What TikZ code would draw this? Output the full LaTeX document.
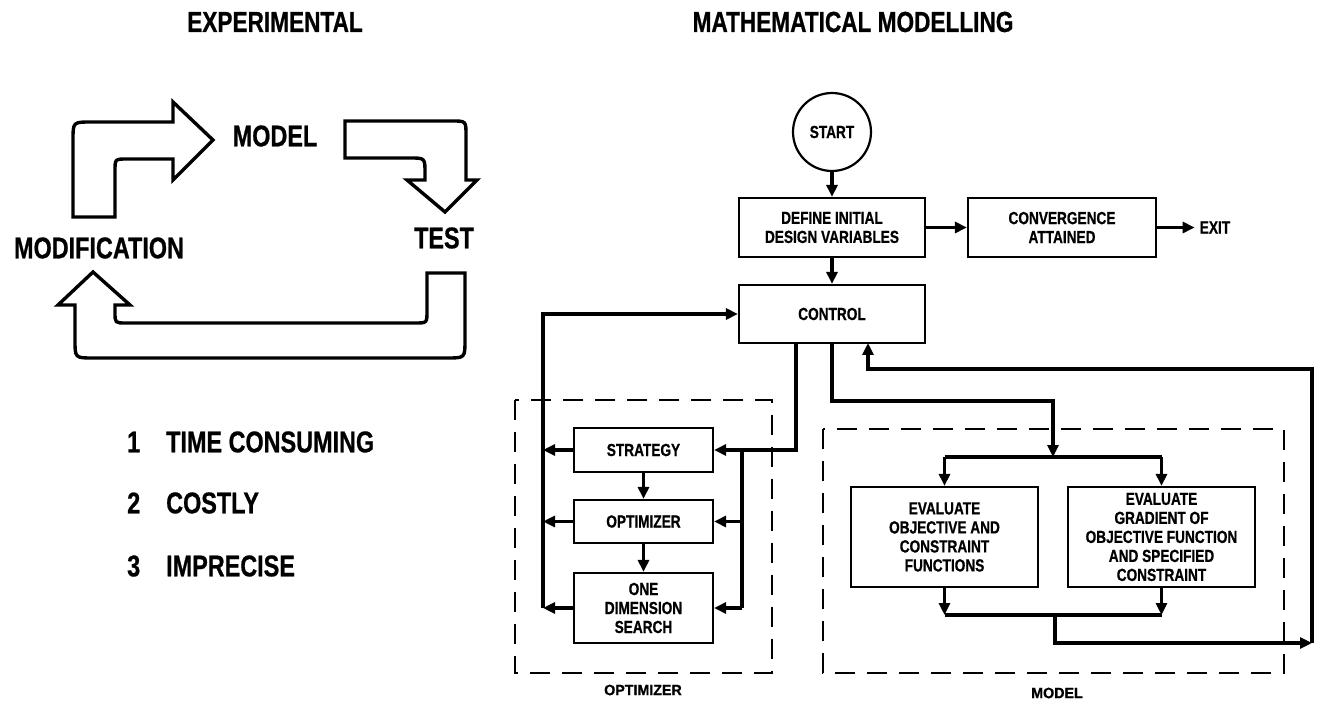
\documentclass[tikz,border=0pt]{standalone}
\usepackage{fontspec}
\setmainfont{Liberation Sans}[FakeStretch=0.78, BoldFeatures={FakeBold=0.7}]
\newfontfamily\groupfamily{Liberation Sans}[FakeStretch=0.95, BoldFeatures={FakeBold=0.7}]
\usetikzlibrary{arrows.meta,positioning}

\newcommand\headfont{\fontsize{29}{32}\selectfont\bfseries}
\newcommand\cyclefont{\fontsize{30}{34}\selectfont\bfseries}
\newcommand\blockfont{\fontsize{17.5}{19}\selectfont\bfseries}
\newcommand\groupfont{\groupfamily\fontsize{15}{17}\selectfont\bfseries}

\tikzstyle{heading}=[inner sep=0pt, font=\headfont]
\tikzstyle{stage}=[inner sep=0pt, font=\cyclefont]
\tikzstyle{block}=[rectangle, draw, line width=2.2pt, inner sep=0pt, align=center,
                   font=\blockfont]
\tikzstyle{terminal}=[circle, draw, line width=2.2pt, minimum size=78pt, inner sep=0pt,
                      font=\blockfont]
\tikzstyle{group-box}=[draw, line width=1.8pt, dash pattern=on 20pt off 12pt]
\tikzstyle{group-label}=[inner sep=0pt, font=\groupfont]
\tikzstyle{fat-arrow}=[draw, line width=3.4pt]
\tikzstyle{edge} = [draw, line width=3.5pt, -]
\tikzstyle{directed-edge} = [draw, line width=3.5pt, -{Triangle[length=12pt,width=11pt]}]

\begin{document}
\begin{tikzpicture}[x=1pt, y=-1pt]
    \useasboundingbox (0,0) rectangle (1318,703);
    % Headings
    \node[heading] (exp-title) at (275,22) {EXPERIMENTAL};
    \node[heading] (math-title) at (853,22) {MATHEMATICAL MODELLING};

    % The experimental cycle
    \foreach \pos/\name/\text in {{(275,136)/model-stage/MODEL}, {(444,238)/test-stage/TEST},
        {(99,248)/mod-stage/MODIFICATION}}
      \node[stage] (\name) at \pos {\text};
    \draw[fat-arrow] (73,217) -- (73,140) .. controls (73,122) .. (91,122) -- (173,122)
        -- (173,102) -- (213,140) -- (173,180) -- (173,159) -- (127,159)
        .. controls (115,159) .. (115,171) -- (115,217) -- cycle;
    \draw[fat-arrow] (345,121) -- (452,121) .. controls (466,121) .. (466,135) -- (466,180)
        -- (477,180) -- (445,212) -- (407,180) -- (425,180) -- (425,173)
        .. controls (425,158) .. (410,158) -- (345,158) -- cycle;
    \draw[fat-arrow] (427,273) -- (465,273) -- (465,340) .. controls (465,358) .. (447,358)
        -- (93,358) .. controls (75,358) .. (75,340) -- (75,305) -- (58,305) -- (93,272)
        -- (130,305) -- (115,305) -- (115,312) .. controls (115,323) .. (126,323)
        -- (415,323) .. controls (427,323) .. (427,311) -- cycle;

    % Drawbacks
    \foreach \y/\n/\text in {442/1/TIME CONSUMING, 503/2/COSTLY, 566/3/IMPRECISE} {
      \node[stage, anchor=west] (num-\n) at (127,\y) {\n};
      \node[stage, anchor=west] (item-\n) at (166,\y) {\text};
    }

    % First we draw the blocks of the flow chart
    \node[terminal] (start) at (832,132) {START};
    \node[block, minimum width=186pt, minimum height=59pt] (define) at (832,227.5)
        {DEFINE INITIAL\\DESIGN VARIABLES};
    \node[block, minimum width=188pt, minimum height=59pt] (converge) at (1062,227.5)
        {CONVERGENCE\\ATTAINED};
    \node[inner sep=5pt, font=\blockfont] (exit) at (1215,227.5) {EXIT};
    \node[block, minimum width=186pt, minimum height=58pt] (control) at (832,314) {CONTROL};
    \foreach \y/\h/\name/\text in {450/44pt/strategy/STRATEGY, 521.5/43pt/optim/OPTIMIZER,
        608/70pt/search/{ONE\\DIMENSION\\SEARCH}}
      \node[block, minimum width=139pt, minimum height=\h] (\name) at (643.5,\y) {\text};
    \foreach \x/\name/\text in {944.5/eval-obj/{EVALUATE\\OBJECTIVE AND\\CONSTRAINT\\FUNCTIONS},
        1161.5/eval-grad/{EVALUATE\\GRADIENT OF\\OBJECTIVE FUNCTION\\AND SPECIFIED\\CONSTRAINT}}
      \node[block, minimum width=187pt, minimum height=100pt] (\name) at (\x,537) {\text};

    % Dashed groups
    \draw[group-box] (515,400) rectangle (772,673);
    \draw[group-box] (823,429) rectangle (1284,673);
    \node[group-label] (opt-caption) at (643,690) {OPTIMIZER};
    \node[group-label] (model-caption) at (1057,693) {MODEL};

    % Junction points
    \coordinate (opt-left) at (543,314);
    \coordinate (opt-right) at (742,450);
    \coordinate (tap-opt) at (796,343);
    \coordinate (bend) at (1053,401);
    \coordinate (fork) at (1053,457);
    \coordinate (join) at (1055,615);
    \coordinate (ret) at (1312,643);
    \coordinate (back) at (868,369);
    \coordinate (tap-back) at (868,343);

    % Connect blocks with arrows
    \foreach \source/\dest in {start/define, define/converge, converge/exit, define/control,
                               strategy/optim, optim/search}
      \path[directed-edge] (\source) -- (\dest);
    \foreach \name in {strategy, optim, search}
      \path[directed-edge] (\name.west) -- (\name.west -| opt-left);
    \foreach \name in {optim, search}
      \path[directed-edge] (\name.east -| opt-right) -- (\name.east);
    \path[edge] (opt-right) -- (search.east -| opt-right);
    \path[directed-edge] (search.west -| opt-left) |- (control.west);
    \path[directed-edge] (tap-opt) |- (strategy.east);
    \path[directed-edge] (control.south) |- (bend) -- (fork);
    \path[edge] (fork -| eval-obj) -- (fork -| eval-grad);
    \path[edge] (join -| eval-obj) -- (join -| eval-grad);
    \foreach \name in {eval-obj, eval-grad} {
      \path[directed-edge] (fork -| \name) -- (\name);
      \path[directed-edge] (\name) -- (join -| \name);
    }
    \path[directed-edge] (join) |- (ret);
    \path[directed-edge] (ret) |- (back) -- (tap-back);
\end{tikzpicture}
\end{document}
